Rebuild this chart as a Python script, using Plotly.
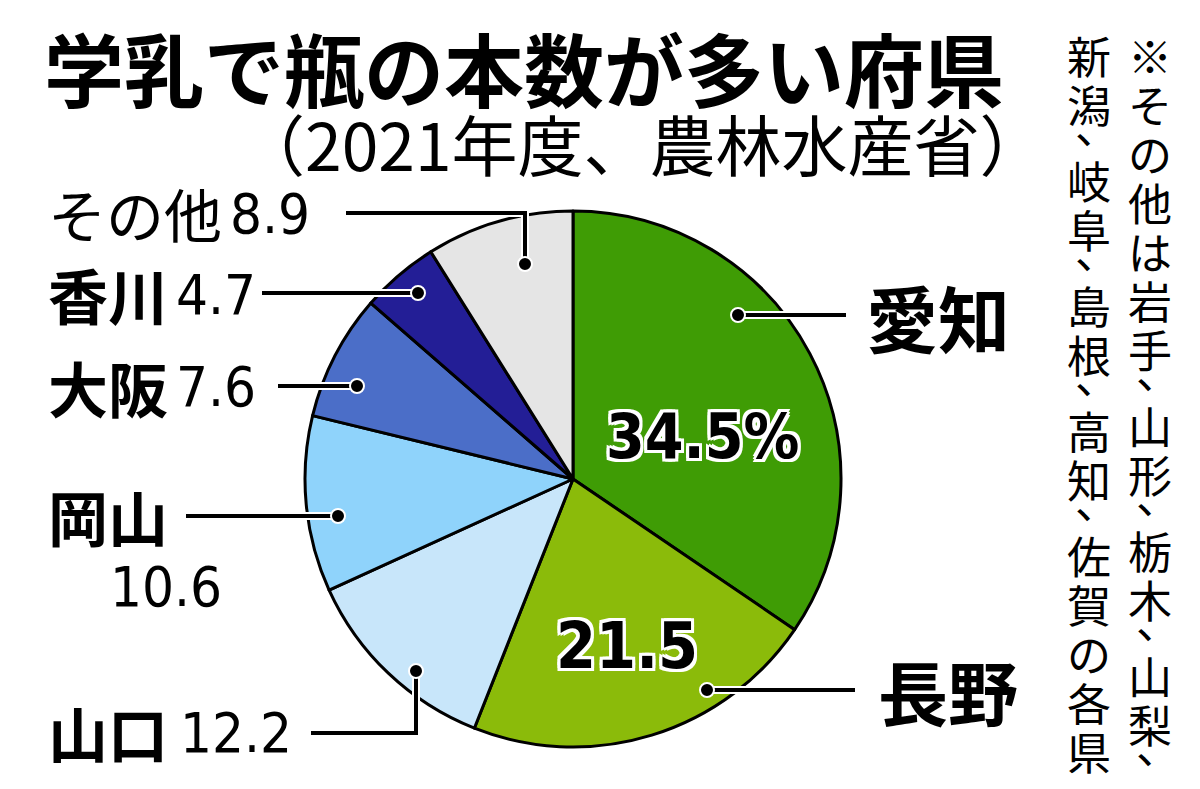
import plotly.graph_objects as go

W, H = 1200, 789

# ── data ─────────────────────────────────────────────────────────────────────
prefs  = ["愛知", "長野", "山口", "岡山", "大阪", "香川", "その他"]
shares = [34.5, 21.5, 12.2, 10.6, 7.6, 4.7, 8.9]
colors = ["#3f9c05", "#8bbb0a", "#c8e6fa", "#8fd3fb", "#4b6ec8", "#231e96", "#e5e5e5"]

title_text = "学乳で瓶の本数が多い府県"
source_text = "（2021年度、農林水産省）"
note_cols = ["※その他は岩手、山形、栃木、山梨、", "新潟、岐阜、島根、高知、佐賀の各県"]

JP = "Noto Sans CJK JP"
NUM = "DejaVu Sans Condensed, Liberation Sans Narrow, sans-serif"


def px(x):
    return x / W


def py(y):
    return 1 - y / H


# pie geometry (pixels) - domain box, plotly draws it a touch right/down
CX, CY, R = 565, 471, 268

fig = go.Figure(go.Pie(
    labels=prefs, values=shares, sort=False, direction="clockwise", rotation=0,
    marker=dict(colors=colors, line=dict(color="black", width=3)),
    textinfo="none", hoverinfo="label+value", showlegend=False,
    domain=dict(x=[px(CX - R), px(CX + R)], y=[py(CY + R), py(CY - R)]),
))

ann = []
shapes = []


def text(x, y, s, size, anchor="left", bold=False, family=JP, **kw):
    ann.append(dict(
        x=px(x), y=py(y), xref="paper", yref="paper", text=f"<b>{s}</b>" if bold else s,
        showarrow=False, xanchor=anchor, yanchor="middle",
        font=dict(family=family, size=size, color="black", **kw),
    ))


def leader(points):
    path = "M " + " L ".join(f"{px(x)},{py(y)}" for x, y in points)
    for col, w in (("white", 8), ("black", 4)):
        shapes.append(dict(type="path", path=path, xref="paper", yref="paper",
                           line=dict(color=col, width=w)))
    x, y = points[-1]
    shapes.append(dict(type="circle", xref="paper", yref="paper",
                       x0=px(x - 7), x1=px(x + 7), y0=py(y + 7), y1=py(y - 7),
                       fillcolor="black", line=dict(color="white", width=2)))


# title and source
text(34, 58, title_text, 80, bold=True)
text(1040, 134, source_text, 66, anchor="right")

# labels – right side
text(856, 307, prefs[0], 72, bold=True)
leader([(838, 307), (730, 307)])
text(868, 682, prefs[1], 70, bold=True)
leader([(847, 682), (699, 682)])

# labels – left side
text(38, 205, prefs[6], 58)
text(220, 206, f"{shares[6]}", 56, family=NUM)
leader([(338, 205), (517, 205), (517, 256)])

text(38, 285, prefs[5], 60, bold=True)
text(166, 286, f"{shares[5]}", 56, family=NUM)
leader([(254, 285), (410, 285)])

text(38, 378, prefs[4], 60, bold=True)
text(166, 379, f"{shares[4]}", 56, family=NUM)
leader([(270, 378), (349, 378)])

text(38, 507, prefs[3], 60, bold=True)
text(100, 578, f"{shares[3]}", 56, family=NUM)
leader([(178, 508), (330, 508)])

text(38, 723, prefs[2], 60, bold=True)
text(170, 724, f"{shares[2]}", 56, family=NUM)
leader([(303, 725), (408, 725), (408, 663)])

# in-slice values with white outline
halo = ", ".join(f"{dx}px {dy}px 0 white" for dx in (-3, 0, 3) for dy in (-3, 0, 3))
text(695, 428, f"{shares[0]}%", 62, anchor="center", bold=True, family=NUM, shadow=halo)
text(619, 638, f"{shares[1]}", 64, anchor="center", bold=True, family=NUM, shadow=halo)

# vertical note, right-to-left columns, one box per character
for col_x, col in zip((1142, 1081), note_cols):
    y = 25
    for ch in col:
        comma = ch == "、"
        ann.append(dict(x=px(col_x + 8 if comma else col_x), y=py(y - 6 if comma else y + 22),
                        xref="paper", yref="paper", text=ch, showarrow=False,
                        xanchor="center", yanchor="middle",
                        font=dict(family=JP, size=44, color="black")))
        y += 27 if comma else 49

fig.update_layout(
    width=W, height=H, margin=dict(l=0, r=0, t=0, b=0),
    paper_bgcolor="white", plot_bgcolor="white",
    annotations=ann, shapes=shapes,
)
fig.write_html("out.html")
